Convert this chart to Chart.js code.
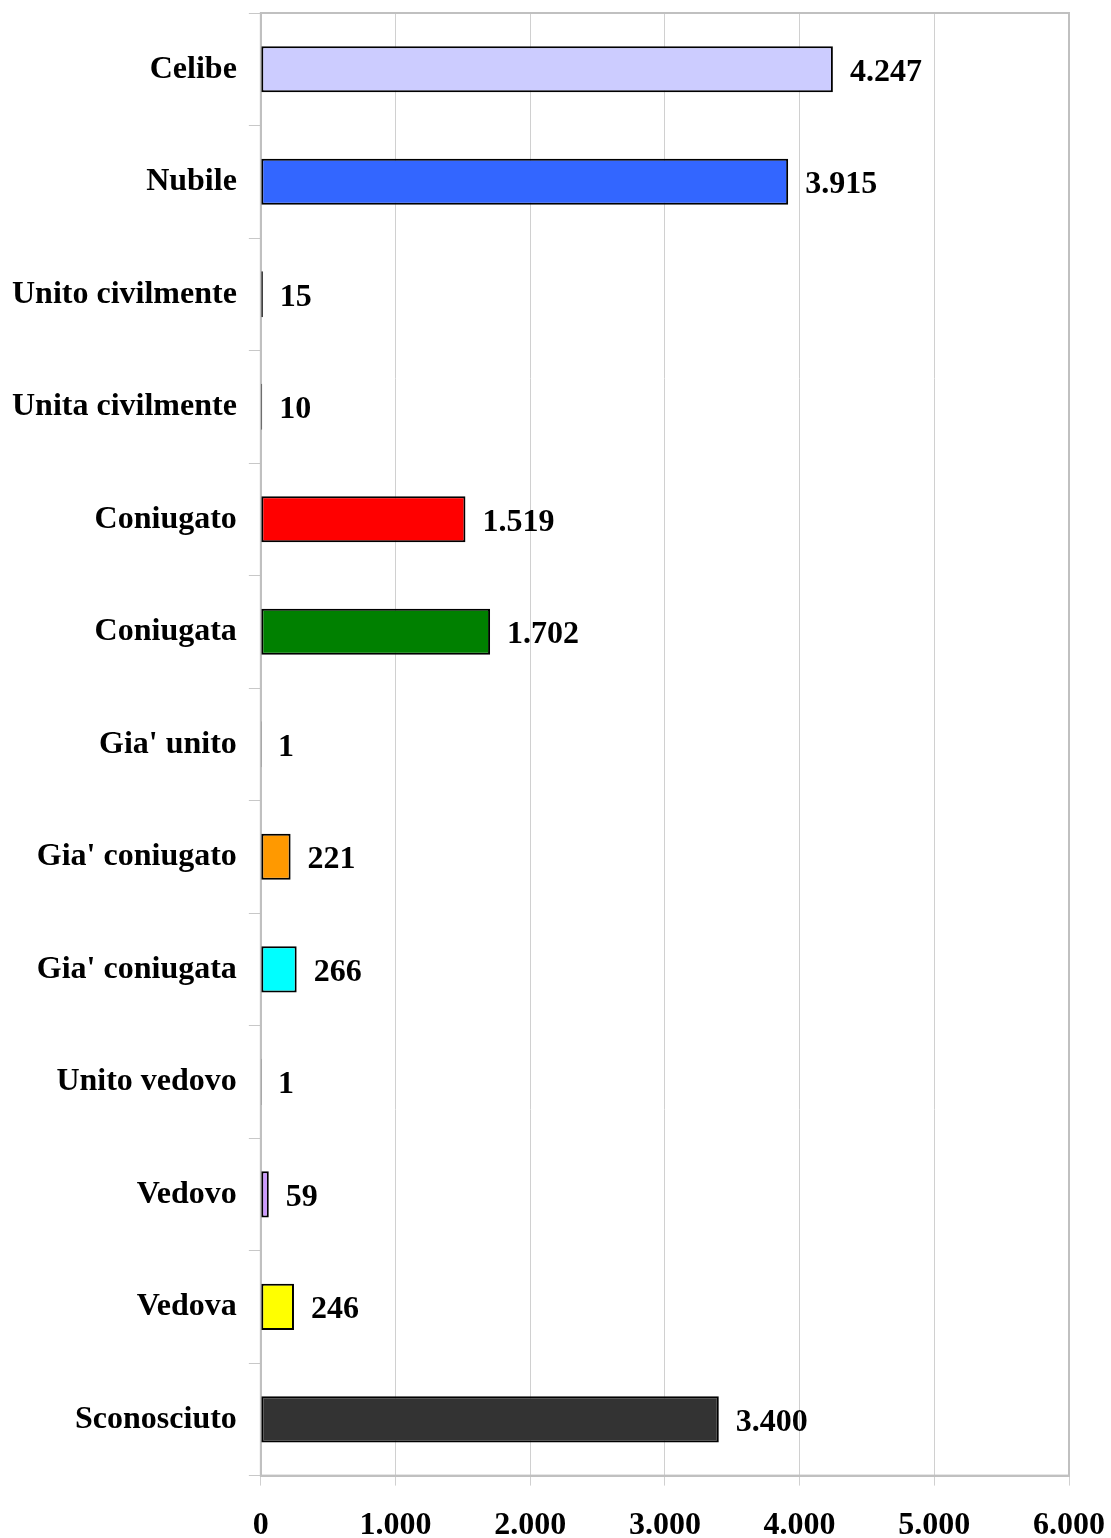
<!DOCTYPE html>
<html>
<head>
<meta charset="utf-8">
<script src="https://cdn.jsdelivr.net/npm/chart.js@4.4.0/dist/chart.umd.min.js"></script>
<style>
html,body{margin:0;padding:0;background:#fff;}
canvas{display:block;}
</style>
</head>
<body>
<canvas id="c" width="1111" height="1538"></canvas>
<script>
const categories = ["Celibe","Nubile","Unito civilmente","Unita civilmente","Coniugato","Coniugata","Gia' unito","Gia' coniugato","Gia' coniugata","Unito vedovo","Vedovo","Vedova","Sconosciuto"];
const values = [4247,3915,15,10,1519,1702,1,221,266,1,59,246,3400];
const barColors = ["#CCCCFF","#3366FF","#000080","#800080","#FF0000","#008000","#FF00FF","#FF9900","#00FFFF","#800000","#CC99FF","#FFFF00","#333333"];
const xTicks = [0,1000,2000,3000,4000,5000,6000];

const fmt = v => v.toLocaleString('de-DE');
const FONT = "'Liberation Serif','Times New Roman',serif";

const labelPlugin = {
  id: 'valueLabels',
  afterDatasetsDraw(chart) {
    const ctx = chart.ctx;
    const meta = chart.getDatasetMeta(0);
    ctx.save();
    ctx.font = "bold 32px " + FONT;
    ctx.fillStyle = "#000";
    ctx.textBaseline = "middle";
    ctx.textAlign = "left";
    meta.data.forEach((bar, i) => {
      ctx.fillText(fmt(values[i]), bar.x + 17, bar.y + 3);
    });
    ctx.restore();
  }
};
const borderPlugin = {
  id: 'areaBorder',
  beforeDatasetsDraw(chart) {
    const a = chart.chartArea, ctx = chart.ctx;
    ctx.save();
    ctx.strokeStyle = "#c0c0c0";
    ctx.lineWidth = 2;
    ctx.strokeRect(a.left, a.top, a.right - a.left, a.bottom - a.top);
    ctx.restore();
  }
};
const zeroPad = s => { s.paddingTop = 0; s.paddingBottom = 0; s.paddingLeft = 0; s.paddingRight = 0; };

new Chart(document.getElementById('c'), {
  type: 'bar',
  data: {
    labels: categories,
    datasets: [{
      data: values,
      backgroundColor: barColors,
      borderColor: "#000",
      borderWidth: 2,
      borderSkipped: false,
      barPercentage: 0.41,
      categoryPercentage: 1
    }]
  },
  options: {
    indexAxis: 'y',
    responsive: false,
    animation: false,
    layout: { padding: { top: 13, right: 42, bottom: -28, left: 0 } },
    plugins: { legend: { display: false }, tooltip: { enabled: false } },
    scales: {
      x: {
        min: 0, max: 6000,
        afterBuildTicks: axis => { axis.ticks = xTicks.map(v => ({ value: v })); },
        afterFit: zeroPad,
        grid: { color: "#d0d0d0", lineWidth: 1, tickLength: 10, drawTicks: true, tickColor: "#d0d0d0" },
        border: { color: "#c0c0c0", width: 2 },
        ticks: {
          font: { family: FONT, size: 32, weight: 'bold' },
          color: "#000",
          padding: 21,
          maxRotation: 0,
          callback: v => fmt(v)
        }
      },
      y: {
        afterFit: zeroPad,
        grid: { offset: true, drawOnChartArea: false, tickLength: 12, color: "#c8c8c8", lineWidth: 1 },
        border: { color: "#c0c0c0", width: 2 },
        ticks: {
          font: { family: FONT, size: 32, weight: 'bold' },
          color: "#000",
          padding: 12,
          autoSkip: false
        }
      }
    }
  },
  plugins: [borderPlugin, labelPlugin]
});
</script>
</body>
</html>
